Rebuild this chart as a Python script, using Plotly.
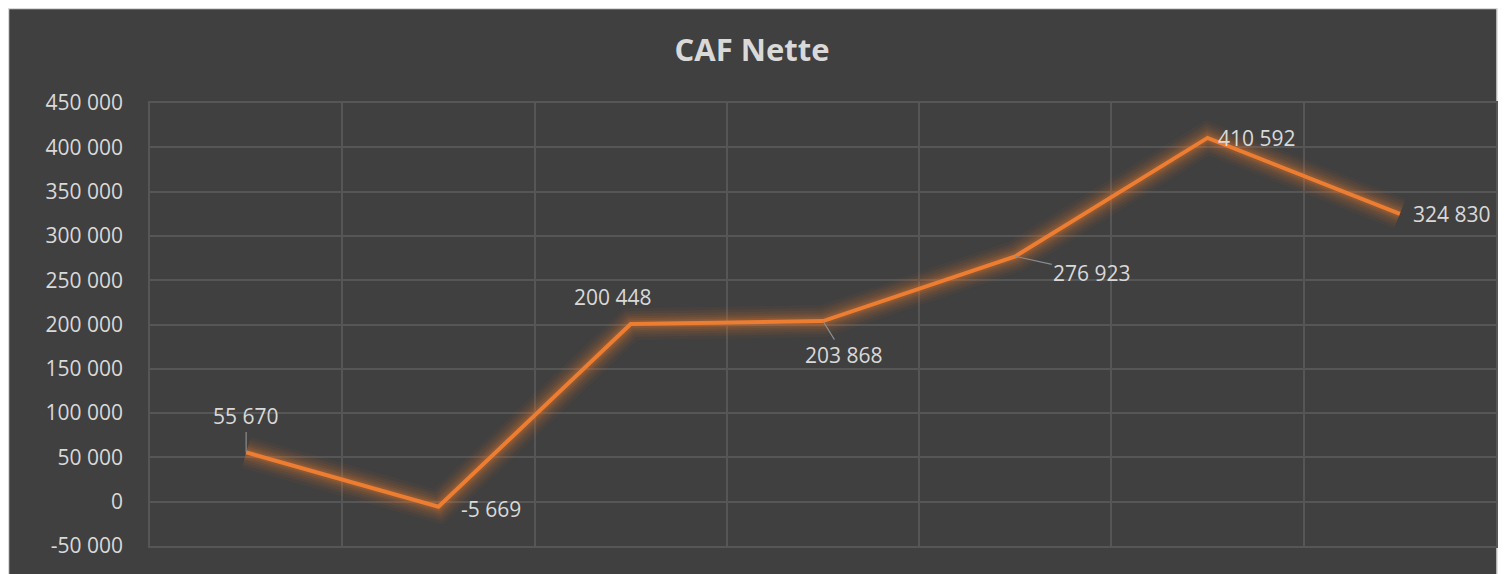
import plotly.graph_objects as go

# ---- data ----
positions = [1, 2, 3, 4, 5, 6, 7]
caf_nette = [55670, -5669, 200448, 203868, 276923, 410592, 324830]
y_ticks = [-50000, 0, 50000, 100000, 150000, 200000, 250000, 300000, 350000, 400000, 450000]
title_text = "CAF Nette"

def fmt(v):
    return f"{v:,}".replace(",", " ")

y_tick_labels = [fmt(v) for v in y_ticks]
point_labels = [fmt(v) for v in caf_nette]

# label offsets in pixels (dx, dy; dy positive = down) and leader-line flag
label_offsets = [(0, -36, True), (53, 2, False), (-18, -27, False), (21, 34, True),
                 (77, 17, True), (49, 0, False), (52, 0, False)]

ORANGE = "237,125,49"
BG = "#404040"
GRID = "#565656"
TXT = "#d9d9d9"
FONT = "Open Sans"

fig = go.Figure()

# glow layers
for w, a in [(32, 0.05), (26, 0.06), (21, 0.07), (16, 0.09), (12, 0.12), (8, 0.15)]:
    fig.add_trace(go.Scatter(x=positions, y=caf_nette, mode="lines",
                             line=dict(color=f"rgba({ORANGE},{a})", width=w),
                             hoverinfo="skip", showlegend=False))
fig.add_trace(go.Scatter(x=positions, y=caf_nette, mode="lines",
                         line=dict(color=f"rgb({ORANGE})", width=4),
                         showlegend=False))

annotations = []
for x, y, t, (dx, dy, lead) in zip(positions, caf_nette, point_labels, label_offsets):
    if lead:
        annotations.append(dict(x=x, y=y, xref="x", yref="y", text=t, showarrow=True,
                                arrowhead=0, arrowwidth=1.2, arrowcolor="#8c8c8c",
                                ax=dx, ay=dy, font=dict(family=FONT, size=21, color=TXT)))
    else:
        annotations.append(dict(x=x, y=y, xref="x", yref="y", text=t, showarrow=False,
                                xshift=dx, yshift=-dy, font=dict(family=FONT, size=21, color=TXT)))

# figure geometry (page has an 8px body margin)
W, H = 1502, 566
L, R, T, B = 142, 14, 95, 28
pw = W - L - R
ph = H - T - B
fig.add_shape(type="rect", xref="paper", yref="paper",
              x0=(0.5 - L) / pw, x1=(1489 - L) / pw,
              y0=-(B + 10) / ph, y1=(ph + T - 0.5) / ph,
              fillcolor=BG, line=dict(color="#d9d9d9", width=1.5), layer="below")

fig.update_layout(
    width=W, height=H,
    margin=dict(l=L, r=R, t=T, b=B),
    paper_bgcolor="white",
    plot_bgcolor="rgba(0,0,0,0)",
    title=dict(text=f"<b>{title_text}</b>", x=744 / W, xref="container", xanchor="center",
               y=1 - 42 / H, yanchor="middle",
               font=dict(family=FONT, size=31, color=TXT)),
    xaxis=dict(range=[0.5, 7.5], tickmode="linear", tick0=0.5, dtick=1,
               showticklabels=False, showgrid=True, gridcolor=GRID, gridwidth=1.5,
               zeroline=False, showline=True, linecolor=GRID, linewidth=1.5, mirror=True,
               ticks=""),
    yaxis=dict(range=[-50000, 450000], tickvals=y_ticks, ticktext=y_tick_labels,
               showgrid=True, gridcolor=GRID, gridwidth=1.5, zeroline=False,
               showline=True, linecolor=GRID, linewidth=1.5, mirror=True,
               ticks="", ticklabelstandoff=21,
               tickfont=dict(family=FONT, size=21, color=TXT)),
    annotations=annotations,
    showlegend=False,
)

fig.write_html("out.html")
